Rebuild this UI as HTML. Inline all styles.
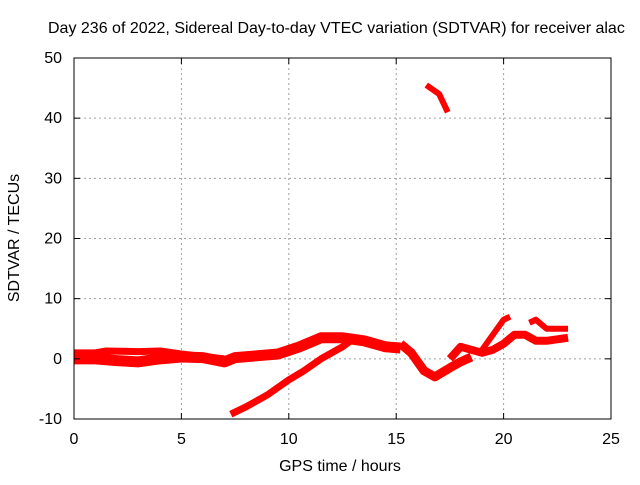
<!DOCTYPE html>
<html><head><meta charset="utf-8"><style>
body{margin:0;background:#fff}
svg text{font-family:"Liberation Sans",sans-serif;font-size:16px;fill:#000}
</style></head><body>
<svg id="chart" width="640" height="480">
<rect width="640" height="480" fill="#fff"/>
<text x="48" y="33">Day 236 of 2022, Sidereal Day-to-day VTEC variation (SDTVAR) for receiver alac</text>
<g id="grid"></g><g id="series"></g><g id="axes"></g>
<text x="340" y="471" text-anchor="middle">GPS time / hours</text>
<text transform="translate(19,238) rotate(-90)" text-anchor="middle">SDTVAR / TECUs</text>
</svg>
<script>
const xTicks=[0,5,10,15,20,25];
const yTicks=[-10,0,10,20,30,40,50];
const seriesA=[[0,0],[1,0],[2,-0.3],[3,-0.5],[4,0],[5,0.3],[6,0.2],[7,-0.5],[7.5,0.2],[8.5,0.5],[9.5,0.8],[10.5,2],[11.5,3.5],[12.5,3.5],[13.5,3],[14.5,2],[15.2,1.8]];
const seriesB=[[0,1],[1,1],[1.5,1.3],[3,1.2],[4,1.3],[5,0.8],[6,0.4],[7,0]];
const seriesC=[[7.3,-9.2],[8,-8],[9,-6],[10,-3.5],[10.7,-2],[11.5,0],[12.5,2],[13,3.3]];
const seriesD=[[15.2,2.5],[15.7,1],[16.3,-2],[16.8,-3],[17.5,-1.5],[18,-0.5],[18.5,0.3]];
const seriesE=[[17.5,0],[18,2],[18.5,1.5],[19,1],[19.5,1.5],[20,2.5],[20.5,4],[21,4],[21.5,3],[22,3],[23,3.5]];
const seriesF=[[19,1.5],[19.5,4],[20,6.5],[20.3,7]];
const seriesG=[[21.2,6],[21.5,6.5],[22,5],[23,5]];
const seriesH=[[16.4,45.5],[17,44],[17.4,41]];
const NS='http://www.w3.org/2000/svg';
const X=h=>74+h*(537/25), Y=v=>419-(v+10)*(361/60);
function mk(tag,attrs,parent){const e=document.createElementNS(NS,tag);for(const k in attrs)e.setAttribute(k,attrs[k]);parent.appendChild(e);return e;}
const grid=document.getElementById('grid'),axes=document.getElementById('axes'),ser=document.getElementById('series');
xTicks.forEach(t=>{
 if(t>0&&t<25){const g=mk('line',{x1:X(t),x2:X(t),y1:58,y2:419,stroke:'#a0a0a0','stroke-dasharray':'2,3'},grid);
 
 }
 const tl=mk('text',{x:X(t),y:444,'text-anchor':'middle'},axes);tl.textContent=t;
 
 
 mk('line',{x1:X(t),x2:X(t),y1:419,y2:413,stroke:'#000'},axes);
 mk('line',{x1:X(t),x2:X(t),y1:58,y2:64,stroke:'#000'},axes);
});
yTicks.forEach(t=>{
 if(t>-10&&t<50){const g=mk('line',{x1:74,x2:611,y1:Y(t),y2:Y(t),stroke:'#a0a0a0','stroke-dasharray':'2,3'},grid);
 
 }
 const tl=mk('text',{x:62,y:Y(t)+5,'text-anchor':'end'},axes);tl.textContent=t;
 
 
 mk('line',{x1:74,x2:80,y1:Y(t),y2:Y(t),stroke:'#000'},axes);
 mk('line',{x1:611,x2:605,y1:Y(t),y2:Y(t),stroke:'#000'},axes);
});
const fr=mk('rect',{x:74,y:58,width:537,height:361,fill:'none',stroke:'#000'},axes);


[[seriesA,11],[seriesB,7],[seriesC,7],[seriesD,9],[seriesE,8],[seriesF,6],[seriesG,6],[seriesH,6]].forEach(([s,w],i)=>{
 const p=mk('polyline',{points:s.map(d=>X(d[0])+','+Y(d[1])).join(' '),fill:'none',stroke:'#f00','stroke-width':w,'stroke-linejoin':'round'},ser);
 
 
});
</script>
</body></html>
